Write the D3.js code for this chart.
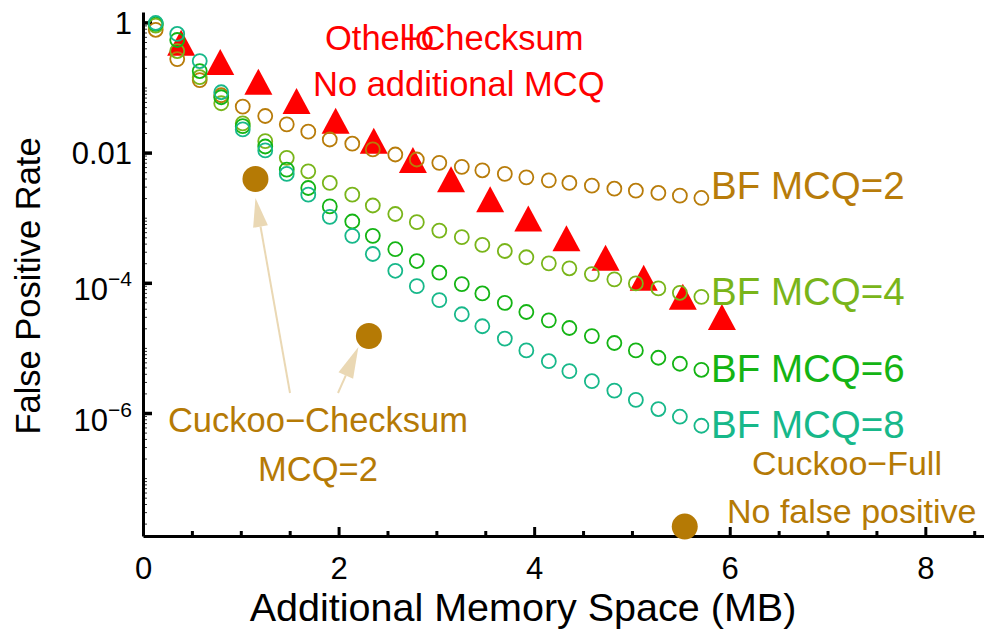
<!DOCTYPE html>
<html><head><meta charset="utf-8">
<script src="https://cdn.jsdelivr.net/npm/d3@7"></script>
<style>
body{margin:0;background:#fff}
svg{display:block}
text{font-family:"Liberation Sans",Arial,Helvetica,sans-serif}
</style>
</head><body>
<svg id="c" width="984" height="638"></svg>
<script>
// ---------- data ----------
const xBF = [0.13,0.35,0.58,0.80,1.02,1.25,1.47,1.69,1.91,2.14,2.35,2.58,2.80,3.03,3.26,3.47,3.70,3.92,4.15,4.36,4.59,4.82,5.04,5.27,5.49,5.71];
const fprMCQ2 = [0.77,0.273,0.130,0.076,0.0509,0.0365,0.0272,0.0210,0.0159,0.0137,0.0112,0.00935,0.00783,0.00696,0.00604,0.00535,0.00471,0.00417,0.00375,0.00342,0.00311,0.00279,0.00260,0.00240,0.00218,0.00201];
const fprMCQ4 = [0.893,0.363,0.144,0.0573,0.0281,0.0150,0.00832,0.00516,0.00342,0.00226,0.00154,0.00114,0.000855,0.000634,0.000502,0.000382,0.000308,0.000247,0.000199,0.000167,0.000136,0.000113,9.79e-5,8.20e-5,7.02e-5,6.08e-5];
const fprMCQ6 = [0.948,0.537,0.179,0.0708,0.0255,0.0124,0.00548,0.00286,0.00149,0.000874,0.000526,0.000328,0.000216,0.000143,9.55e-5,6.86e-5,4.91e-5,3.56e-5,2.65e-5,2.02e-5,1.52e-5,1.19e-5,9.15e-6,7.06e-6,5.71e-6,4.61e-6];
const fprMCQ8 = [0.98,0.665,0.255,0.0846,0.0227,0.0108,0.00471,0.00226,0.00103,0.000526,0.000277,0.000153,8.89e-5,5.41e-5,3.29e-5,2.15e-5,1.39e-5,9.15e-6,6.25e-6,4.39e-6,3.08e-6,2.21e-6,1.59e-6,1.15e-6,8.77e-7,6.37e-7];
const xOthello = [0.39,0.79,1.18,1.57,1.97,2.36,2.76,3.15,3.55,3.94,4.33,4.73,5.12,5.52,5.92];
const fprOthello = [0.419,0.211,0.1055,0.0533,0.0265,0.0131,0.0066,0.00334,0.00165,0.000834,0.000414,0.000209,0.000103,5.23e-5,2.57e-5];
const xCuckooChecksum = [1.15,2.31];
const fprCuckooChecksum = [0.00394,1.52e-5];
const xCuckooFull = [5.54];
const fprCuckooFull = [1.8e-8];
const seriesNames = ["BF MCQ=2","BF MCQ=4","BF MCQ=6","BF MCQ=8"];
const xTickLabels = [0,2,4,6,8];
const yTickValues = [1,0.01,1e-4,1e-6];
const yTickBase = ["1","0.01","10","10"];
const yTickExp = ["","","\u22124","\u22126"];

// ---------- styles ----------
const colBF = ["#b87c0a","#79b51a","#14b414","#17b88a"];
const colRed = "#ff0000";
const colCuckoo = "#b57a05";
const colArrow = "#ead8b4";
const ff = '"Liberation Sans",Arial,Helvetica,sans-serif';

const svg = d3.select("#c");
const x = d3.scaleLinear().domain([0,8.6]).range([143,984]);
const y = d3.scaleLog().domain([1.29e-8,1.445]).range([536,12]);

// ---------- axes ----------
const xMinor = x.ticks(17).filter(v => v % 2 !== 0);
const gxMinor = svg.append("g").attr("transform","translate(0,536)")
  .call(d3.axisBottom(x).tickValues(xMinor).tickSizeInner(-5).tickSizeOuter(0).tickFormat(""));
gxMinor.selectAll(".tick line").attr("stroke","#000").attr("stroke-width",3);
gxMinor.select(".domain").remove();

const gx = svg.append("g").attr("transform","translate(0,536)")
  .call(d3.axisBottom(x).tickValues(xTickLabels).tickSizeInner(-9).tickSizeOuter(0).tickPadding(21).tickFormat(d3.format("d")));
gx.select(".domain").attr("stroke","#000").attr("stroke-width",3);
gx.selectAll(".tick line").attr("stroke","#000").attr("stroke-width",3);
gx.selectAll(".tick text").attr("font-size",31).attr("font-family",ff).attr("fill","#000");

const yAll = y.ticks().filter(v => v <= 1.0001);
const gyMinor = svg.append("g").attr("transform","translate(143,0)")
  .call(d3.axisLeft(y).tickValues(yAll).tickSizeInner(-4).tickSizeOuter(0).tickFormat(""));
gyMinor.selectAll(".tick line").attr("stroke","#333").attr("stroke-width",1);
gyMinor.select(".domain").remove();

const gy = svg.append("g").attr("transform","translate(143,0)")
  .call(d3.axisLeft(y).tickValues(yTickValues).tickSizeInner(-9).tickSizeOuter(0).tickPadding(11).tickFormat(""));
gy.select(".domain").attr("stroke","#000").attr("stroke-width",3);
gy.selectAll(".tick line").attr("stroke","#000").attr("stroke-width",3.5);
gy.selectAll(".tick text").each(function(d,i){
  const t = d3.select(this).attr("font-size",31).attr("font-family",ff).attr("fill","#000");
  t.text(null);
  if (yTickExp[i]) {
    t.attr("dy","0.55em");
    t.append("tspan").text(yTickBase[i]);
    t.append("tspan").attr("font-size",21).attr("dy",-14).text(yTickExp[i]);
  } else {
    t.attr("dy","0.36em");
    t.append("tspan").text(yTickBase[i]);
  }
});

// axis titles
svg.append("text").attr("x",523).attr("y",621).attr("text-anchor","middle")
  .attr("font-size",39.5).attr("fill","#000").text("Additional Memory Space (MB)");
svg.append("text").attr("transform","translate(40,286) rotate(-90)").attr("text-anchor","middle")
  .attr("font-size",34.5).attr("fill","#000").text("False Positive Rate");

// ---------- marks ----------
// Othello triangles (drawn under circles)
const triH = 26, triW = 28;
svg.append("g").selectAll("path").data(xOthello.map((v,i)=>[v,fprOthello[i]])).join("path")
  .attr("d", d => {
    const cx = x(d[0]), cy = y(d[1]);
    return `M${cx},${cy-triH*2/3}L${cx+triW/2},${cy+triH/3}L${cx-triW/2},${cy+triH/3}Z`;
  })
  .attr("fill",colRed);

// BF series circles
const bfSeries = [fprMCQ2,fprMCQ4,fprMCQ6,fprMCQ8];
bfSeries.forEach((vals,k) => {
  svg.append("g").selectAll("circle").data(vals).join("circle")
    .attr("cx",(d,i)=>x(xBF[i])).attr("cy",d=>y(d)).attr("r",7)
    .attr("fill","none").attr("stroke",colBF[k]).attr("stroke-width",1.8);
});

// Cuckoo dots
const cuckooPts = xCuckooChecksum.map((v,i)=>[v,fprCuckooChecksum[i]]).concat(xCuckooFull.map((v,i)=>[v,fprCuckooFull[i]]));
svg.append("g").selectAll("circle").data(cuckooPts).join("circle")
  .attr("cx",d=>x(d[0])).attr("cy",d=>y(d[1])).attr("r",13).attr("fill",colCuckoo);

// arrows
function arrow(tail, tip, len, hw){
  const dx = tip[0]-tail[0], dy = tip[1]-tail[1], L = Math.hypot(dx,dy);
  const ux = dx/L, uy = dy/L;
  const bx = tip[0]-ux*len, by = tip[1]-uy*len;
  svg.append("line").attr("x1",tail[0]).attr("y1",tail[1]).attr("x2",bx).attr("y2",by)
    .attr("stroke",colArrow).attr("stroke-width",2);
  svg.append("path").attr("d",`M${tip[0]},${tip[1]}L${bx-uy*hw},${by+ux*hw}L${bx+uy*hw},${by-ux*hw}Z`)
    .attr("fill",colArrow);
}
const p1 = [x(xCuckooChecksum[0]), y(fprCuckooChecksum[0])];
const p2 = [x(xCuckooChecksum[1]), y(fprCuckooChecksum[1])];
arrow([290,393],[p1[0],p1[1]+19],29,7.5);
arrow([338,393],[p2[0]-10.5,p2[1]+11],31,8);

// ---------- annotations ----------
const oth = svg.append("text").attr("x",325).attr("y",50).attr("font-size",34.5).attr("fill",colRed);
oth.append("tspan").text("Othello");
oth.append("tspan").attr("dx",-34).text("\u2212Checksum");
svg.append("text").attr("x",313).attr("y",96).attr("font-size",34.5).attr("fill",colRed).text("No additional MCQ");

const bfBase = [199,305,382,438];
seriesNames.forEach((s,k)=>{
  svg.append("text").attr("x",711).attr("y",bfBase[k]).attr("font-size",38.5).attr("fill",colBF[k]).text(s);
});

svg.append("text").attr("x",318).attr("y",432).attr("text-anchor","middle").attr("font-size",34.5).attr("fill",colCuckoo).text("Cuckoo\u2212Checksum");
svg.append("text").attr("x",318).attr("y",481).attr("text-anchor","middle").attr("font-size",34.5).attr("fill",colCuckoo).text("MCQ=2");
svg.append("text").attr("x",847).attr("y",475).attr("text-anchor","middle").attr("font-size",34).attr("fill",colCuckoo).text("Cuckoo\u2212Full");
svg.append("text").attr("x",727).attr("y",523).attr("font-size",34).attr("fill",colCuckoo).text("No false positive");
</script>
</body></html>
